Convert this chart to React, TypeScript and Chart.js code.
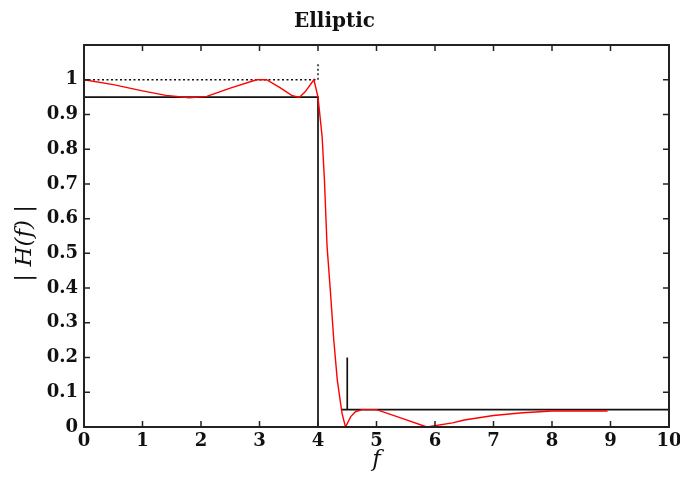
import { useEffect, useRef } from "react";
import { Chart, registerables } from "chart.js";

Chart.register(...registerables);

// Elliptic filter magnitude response (red curve)
const responseFreq = [0, 0.5, 1.0, 1.4, 1.8, 2.1, 2.5, 2.95, 3.12, 3.35, 3.55, 3.68, 3.78, 3.93, 4.0, 4.07, 4.11, 4.155, 4.21, 4.27, 4.33, 4.41, 4.47, 4.56, 4.64, 4.75, 5.0, 5.4, 5.86, 6.3, 6.5, 7.0, 7.5, 8.0, 8.5, 8.95];
const responseMag = [1, 0.986, 0.968, 0.955, 0.948, 0.952, 0.976, 1.0, 1.0, 0.977, 0.955, 0.949, 0.965, 1.0, 0.95, 0.837, 0.712, 0.52, 0.395, 0.25, 0.135, 0.04, 0.0, 0.03, 0.044, 0.05, 0.05, 0.027, 0.0, 0.012, 0.02, 0.033, 0.041, 0.046, 0.046, 0.046];

// Specification mask
const passbandEdgeFreq = [0, 4, 4];
const passbandEdgeMag = [0.95, 0.95, 0];
const passbandRefFreq = [0, 4, 4];
const passbandRefMag = [1, 1, 1.05];
const stopbandFreq = [4.4, 10];
const stopbandMag = [0.05, 0.05];
const stopbandEdgeFreq = [4.5, 4.5];
const stopbandEdgeMag = [0.05, 0.2];

// Axes
const xTickValues = [0, 1, 2, 3, 4, 5, 6, 7, 8, 9, 10];
const yTickValues = [0, 0.1, 0.2, 0.3, 0.4, 0.5, 0.6, 0.7, 0.8, 0.9, 1];

const toPoints = (xs: number[], ys: number[]) => xs.map((x, i) => ({ x, y: ys[i] }));

const framePlugin = {
  id: "frame",
  afterDatasetsDraw(chart: any) {
    const { ctx, chartArea, scales } = chart;
    const { left, right, top, bottom } = chartArea;
    const xs = scales.x;
    const ys = scales.y;
    const len = 6;
    ctx.save();
    ctx.strokeStyle = "#222";
    ctx.lineWidth = 1.5;
    ctx.beginPath();
    for (const t of xs.ticks) {
      const px = xs.getPixelForValue(t.value);
      ctx.moveTo(px, bottom);
      ctx.lineTo(px, bottom - len);
      ctx.moveTo(px, top);
      ctx.lineTo(px, top + len);
    }
    for (const t of ys.ticks) {
      const py = ys.getPixelForValue(t.value);
      ctx.moveTo(left, py);
      ctx.lineTo(left + len, py);
      ctx.moveTo(right, py);
      ctx.lineTo(right - len, py);
    }
    ctx.stroke();
    ctx.lineWidth = 2;
    ctx.strokeRect(left, top, right - left, bottom - top);
    ctx.restore();
  },
};

const blackLine = {
  borderColor: "#111",
  borderWidth: 1.7,
  pointRadius: 0,
  tension: 0,
  fill: false,
};

export default function App() {
  const ref = useRef<HTMLCanvasElement | null>(null);

  useEffect(() => {
    if (!ref.current) return;
    const tickFont = { family: "'DejaVu Serif', serif", size: 18, weight: "bold" as const };
    const chart = new Chart(ref.current, {
      type: "line",
      data: {
        datasets: [
          {
            label: "response",
            data: toPoints(responseFreq, responseMag),
            borderColor: "rgb(255,0,0)",
            borderWidth: 1.4,
            pointRadius: 0,
            tension: 0,
            fill: false,
          },
          { label: "passband", data: toPoints(passbandEdgeFreq, passbandEdgeMag), ...blackLine },
          {
            label: "reference",
            data: toPoints(passbandRefFreq, passbandRefMag),
            ...blackLine,
            borderWidth: 1.4,
            borderDash: [2, 2.5],
          },
          { label: "stopband", data: toPoints(stopbandFreq, stopbandMag), ...blackLine },
          { label: "stopedge", data: toPoints(stopbandEdgeFreq, stopbandEdgeMag), ...blackLine },
        ],
      },
      options: {
        animation: false,
        responsive: false,
        events: [],
        layout: { padding: { left: 0, right: 11, top: 0, bottom: 0 } },
        plugins: {
          legend: { display: false },
          tooltip: { enabled: false },
          title: {
            display: true,
            text: "Elliptic",
            color: "#111",
            font: { family: "'DejaVu Serif', serif", size: 20, weight: "bold" },
            padding: { top: 10, bottom: 11 },
          },
        },
        scales: {
          x: {
            type: "linear",
            min: 0,
            max: 10,
            afterBuildTicks: (scale: any) => {
              scale.ticks = xTickValues.map((v) => ({ value: v }));
            },
            afterFit: (scale: any) => {
              scale.height = 50;
              scale.paddingRight = 0;
              scale.paddingLeft = 0;
            },
            grid: { display: false, drawTicks: false },
            border: { display: false },
            ticks: {
              color: "#111",
              font: tickFont,
              padding: 4,
              maxRotation: 0,
              autoSkip: false,
              callback: (v: any) => String(v),
            },
            title: {
              display: true,
              text: "f",
              color: "#111",
              font: { family: "'DejaVu Serif', serif", size: 23, style: "italic" },
              padding: { top: 0, bottom: 3 },
            },
          },
          y: {
            type: "linear",
            min: 0,
            max: 1.1,
            afterBuildTicks: (scale: any) => {
              scale.ticks = yTickValues.map((v) => ({ value: v }));
            },
            afterFit: (scale: any) => {
              scale.width = 84;
              scale.paddingTop = 0;
              scale.paddingBottom = 0;
            },
            grid: { display: false, drawTicks: false },
            border: { display: false },
            ticks: {
              color: "#111",
              font: tickFont,
              padding: 6,
              autoSkip: false,
              callback: (v: any) => String(Math.round(Number(v) * 10) / 10),
            },
            title: {
              display: true,
              text: "| H(f) |  ",
              color: "#111",
              font: { family: "'DejaVu Serif', serif", size: 23, style: "italic" },
              padding: { top: 11, bottom: 0 },
            },
          },
        },
      },
      plugins: [framePlugin],
    });
    return () => chart.destroy();
  }, []);

  return (
    <div style={{ position: "absolute", left: 0, top: 0, width: 680, height: 477 }}>
      <canvas ref={ref} width={680} height={477} />
    </div>
  );
}
